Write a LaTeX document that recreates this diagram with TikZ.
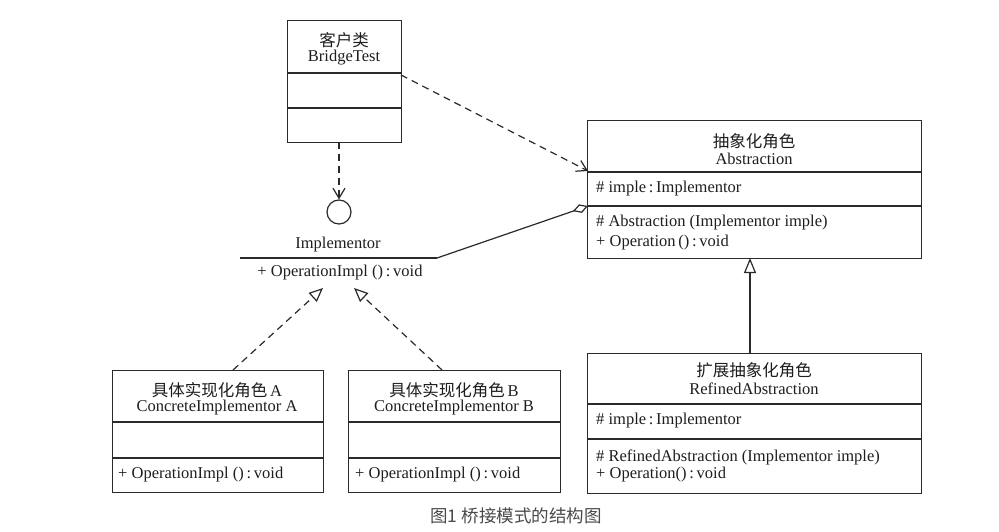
\documentclass[tikz,border=0pt]{standalone}
\usepackage{fontspec}
\setmainfont{Liberation Serif}
\newfontfamily\cjk{Noto Sans CJK SC}
\usetikzlibrary{arrows.meta}
\definecolor{ln}{HTML}{2A2A2A}
\definecolor{tx}{HTML}{1E1E1E}
\definecolor{cap}{HTML}{4A4A4A}
\begin{document}
\begin{tikzpicture}[x=1pt,y=-1pt,
  box/.style={draw=ln, line width=1.2pt, rectangle, inner sep=0pt, anchor=north west},
  txt/.style={inner sep=0pt, text=tx, font=\fontsize{16.5}{19}\selectfont},
  ltxt/.style={txt, anchor=west},
  div/.style={draw=ln, line width=1.2pt},
  dep/.style={draw=ln, line width=1.2pt, dash pattern=on 7pt off 5pt, -{Straight Barb[length=10pt,width=12pt,line width=1.2pt]}},
  real/.style={draw=ln, line width=1.2pt, dash pattern=on 7pt off 5pt, -{Triangle[open,length=14pt,width=12pt,line width=1.2pt]}},
  gen/.style={draw=ln, line width=1.2pt, -{Triangle[open,length=15pt,width=12pt,line width=1.2pt]}},
  agg/.style={draw=ln, line width=1.2pt, -{Diamond[open,length=16pt,width=9pt,line width=1.2pt]}}
]
\fill[white] (0,0) rectangle (999,532);
\useasboundingbox (0,0) rectangle (999,532);

% Client class
\node[box, minimum width=114pt, minimum height=122pt] (bt) at (287,20) {};
\draw[div] (bt.west |- 0,73) -- (bt.east |- 0,73);
\draw[div] (bt.west |- 0,108) -- (bt.east |- 0,108);
\node[txt] (btcn) at (344,40) {\cjk 客户类};
\node[txt] (btn) at (344,58) {BridgeTest};

% Abstraction
\node[box, minimum width=334pt, minimum height=138pt] (abs) at (587,120) {};
\draw[div] (abs.west |- 0,172) -- (abs.east |- 0,172);
\draw[div] (abs.west |- 0,206) -- (abs.east |- 0,206);
\node[txt] (abscn) at (754,141) {\cjk 抽象化角色};
\node[txt] (absn) at (754,159) {Abstraction};
\node[ltxt] (absa) at (596,189) {\# imple\,:\,Implementor};
\node[ltxt] (absm1) at (596,223) {\# Abstraction (Implementor imple)};
\node[ltxt] (absm2) at (596,243) {+ Operation\,()\,:\,void};

% Implementor interface
\node[circle, draw=ln, line width=1.2pt, minimum size=24pt, inner sep=0pt] (ifc) at (339,212) {};
\node[txt] (impn) at (338,245) {Implementor};
\coordinate (implL) at (240,258);
\coordinate (implR) at (437,258);
\draw[div] (implL) -- (implR);
\node[txt] (impop) at (340,273) {+ OperationImpl ()\,:\,void};

% Concrete implementors
\node[box, minimum width=211pt, minimum height=122pt] (ca) at (112,370) {};
\draw[div] (ca.west |- 0,422) -- (ca.east |- 0,422);
\draw[div] (ca.west |- 0,458) -- (ca.east |- 0,458);
\node[txt] (cacn) at (217,390) {{\cjk 具体实现化角色}\,A};
\node[txt] (can) at (217,408) {ConcreteImplementor A};
\node[ltxt] (cam) at (118,475) {+ OperationImpl ()\,:\,void};

\node[box, minimum width=212pt, minimum height=122pt] (cb) at (348,370) {};
\draw[div] (cb.west |- 0,422) -- (cb.east |- 0,422);
\draw[div] (cb.west |- 0,458) -- (cb.east |- 0,458);
\node[txt] (cbcn) at (454,390) {{\cjk 具体实现化角色}\,B};
\node[txt] (cbn) at (454,408) {ConcreteImplementor B};
\node[ltxt] (cbm) at (355,475) {+ OperationImpl ()\,:\,void};

% Refined abstraction
\node[box, minimum width=334pt, minimum height=140pt] (ra) at (587,353) {};
\draw[div] (ra.west |- 0,404) -- (ra.east |- 0,404);
\draw[div] (ra.west |- 0,439) -- (ra.east |- 0,439);
\node[txt] (racn) at (754,370) {\cjk 扩展抽象化角色};
\node[txt] (ran) at (754,389) {RefinedAbstraction};
\node[ltxt] (raa) at (596,421) {\# imple\,:\,Implementor};
\node[ltxt] (ram1) at (596,457) {\# RefinedAbstraction (Implementor imple)};
\node[ltxt] (ram2) at (596,475) {+ Operation()\,:\,void};

% connectors
\coordinate (btB) at (339,142);
\coordinate (btR) at (401,75);
\coordinate (absL) at (588,171);
\coordinate (absD) at (588,206);
\coordinate (caT) at (233,370);
\coordinate (cbT) at (442,370);
\coordinate (ia) at (323,288);
\coordinate (ib) at (354,288);
\coordinate (raT) at (750,353);
\coordinate (absB) at (750,258);

\draw[dep] (btB) -- (ifc.north);
\draw[dep] (btR) -- (absL);
\draw[agg] (implR) -- (absD);
\draw[real] (caT) -- (ia);
\draw[real] (cbT) -- (ib);
\draw[gen] (raT) -- (absB);

% caption
\node[inner sep=0pt, text=cap, font=\cjk\fontsize{17.5}{20}\selectfont] (caption) at (516,516) {图1 桥接模式的结构图};
\end{tikzpicture}
\end{document}
